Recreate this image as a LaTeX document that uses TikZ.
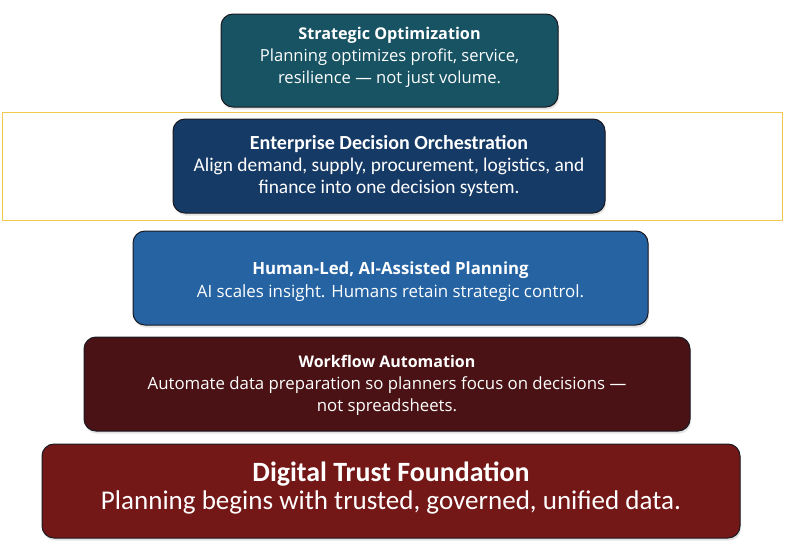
\documentclass[tikz,border=0pt]{standalone}
\usepackage{fontspec}
\setmainfont{Open Sans}
\newfontfamily\carl{Carlito}
\usetikzlibrary{shadows}
\definecolor{tealbox}{HTML}{175363}
\definecolor{navybox}{HTML}{163A66}
\definecolor{bluebox}{HTML}{2563A3}
\definecolor{maroonbox}{HTML}{4A1214}
\definecolor{redbox}{HTML}{741717}
\definecolor{yellowline}{HTML}{F0C850}
\definecolor{boxedge}{HTML}{1A1A22}
\begin{document}
\begin{tikzpicture}[x=1pt,y=-1pt,
  tier/.style={draw=boxedge, line width=1pt, rounded corners=12pt,
    inner sep=0pt,
    drop shadow={opacity=0.22, shadow xshift=1pt, shadow yshift=-2.5pt}},
  tiertext/.style={text=white, align=center, inner sep=0pt}]
\useasboundingbox[fill=white] (0,0) rectangle (794,549);
\node[draw=yellowline, line width=0.8pt, minimum width=780pt, minimum height=108pt, inner sep=0pt] (frame) at (392,166) {};
% boxes
\node[tier, fill=tealbox, minimum width=337pt, minimum height=93pt] (s1) at (389.5,60.5) {};
\node[tier, fill=navybox, minimum width=432pt, minimum height=94pt] (s2) at (389,166) {};
\node[tier, fill=bluebox, minimum width=515pt, minimum height=94pt] (s3) at (390.5,278) {};
\node[tier, fill=maroonbox, minimum width=606pt, minimum height=94pt] (s4) at (387,384) {};
\node[tier, fill=redbox, minimum width=698pt, minimum height=94pt] (s5) at (391,491) {};
% texts
\node[tiertext, font=\fontsize{16.6}{22}\selectfont] (s1t) at ([yshift=3pt]s1.center)
  {{\fontsize{16.2}{22}\selectfont\bfseries Strategic Optimization}\\Planning optimizes profit, service,\\resilience — not just volume.};
\node[tiertext, font=\carl\fontsize{19.4}{22}\selectfont] (s2t) at (s2.center)
  {{\fontsize{20}{22}\selectfont\bfseries Enterprise Decision Orchestration}\\Align demand, supply, procurement, logistics, and\\finance into one decision system.};
\node[tiertext, font=\fontsize{16.9}{23}\selectfont] (s3t) at ([yshift=-4pt]s3.center)
  {{\fontsize{16.8}{23}\selectfont\bfseries Human-Led, AI-Assisted Planning}\\AI scales insight. Humans retain strategic control.};
\node[tiertext, font=\fontsize{16.8}{22}\selectfont] (s4t) at ([yshift=-1pt]s4.center)
  {{\fontsize{16}{22}\selectfont\bfseries Workflow Automation}\\Automate data preparation so planners focus on decisions —\\not spreadsheets.};
\node[tiertext, font=\carl\fontsize{27.05}{28.5}\selectfont] (s5t) at ([yshift=3pt]s5.center)
  {{\fontsize{27.9}{28.5}\selectfont\bfseries Digital Trust Foundation}\\Planning begins with trusted, governed, unified data.};
\end{tikzpicture}
\end{document}
